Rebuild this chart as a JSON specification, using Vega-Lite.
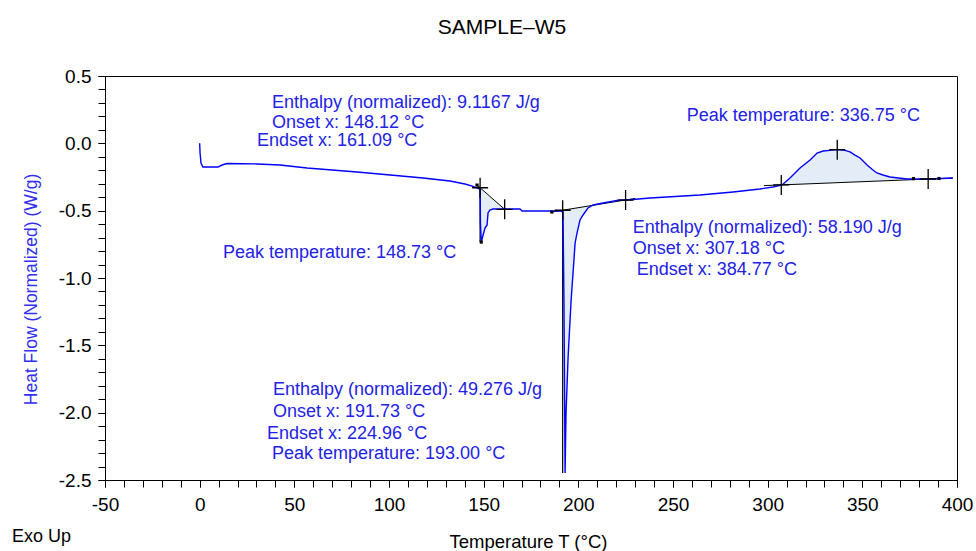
{
  "$schema": "https://vega.github.io/schema/vega-lite/v6.json",
  "width": 852,
  "height": 404,
  "autosize": "none",
  "padding": {"left": 105, "top": 76, "right": 19, "bottom": 71},
  "background": "white",
  "title": {
    "text": "SAMPLE–W5",
    "font": "Liberation Sans",
    "fontSize": 21,
    "fontWeight": "normal",
    "color": "black",
    "anchor": "middle",
    "frame": "group",
    "dx": -29,
    "offset": 12,
    "baseline": "alphabetic"
  },
  "config": {
    "view": {"stroke": "black", "strokeWidth": 1},
    "axis": {
      "grid": false,
      "domainColor": "black",
      "domainWidth": 1,
      "tickColor": "black",
      "tickWidth": 1,
      "tickSize": 7,
      "labelColor": "black",
      "labelFont": "Liberation Sans",
      "labelFontSize": 19,
      "titleFont": "Liberation Sans",
      "titleFontWeight": "normal",
      "labelFlush": false,
      "labelOverlap": false,
      "labelBound": false
    }
  },
  "datasets": {
    "curve": [
      {"t": 0.0, "hf": 0.0},
      {"t": 0.2, "hf": -0.07},
      {"t": 0.7, "hf": -0.146},
      {"t": 1.7, "hf": -0.176},
      {"t": 9.7, "hf": -0.176},
      {"t": 11.8, "hf": -0.161},
      {"t": 14.4, "hf": -0.15},
      {"t": 30.3, "hf": -0.153},
      {"t": 42.4, "hf": -0.161},
      {"t": 56.7, "hf": -0.183},
      {"t": 83.1, "hf": -0.213},
      {"t": 100.6, "hf": -0.235},
      {"t": 118.0, "hf": -0.257},
      {"t": 132.2, "hf": -0.28},
      {"t": 140.1, "hf": -0.302},
      {"t": 144.4, "hf": -0.32},
      {"t": 147.6, "hf": -0.338},
      {"t": 148.12, "hf": -0.345},
      {"t": 148.3, "hf": -0.6},
      {"t": 148.73, "hf": -0.733},
      {"t": 149.7, "hf": -0.681},
      {"t": 150.7, "hf": -0.629},
      {"t": 151.8, "hf": -0.606},
      {"t": 152.3, "hf": -0.517},
      {"t": 153.3, "hf": -0.495},
      {"t": 154.9, "hf": -0.488},
      {"t": 169.2, "hf": -0.488},
      {"t": 170.3, "hf": -0.502},
      {"t": 187.7, "hf": -0.502},
      {"t": 190.3, "hf": -0.502},
      {"t": 191.9, "hf": -0.51},
      {"t": 192.4, "hf": -1.163},
      {"t": 193.0, "hf": -2.448},
      {"t": 193.5, "hf": -2.002},
      {"t": 194.6, "hf": -1.587},
      {"t": 196.2, "hf": -1.163},
      {"t": 197.2, "hf": -0.963},
      {"t": 198.3, "hf": -0.74},
      {"t": 199.3, "hf": -0.666},
      {"t": 200.9, "hf": -0.569},
      {"t": 202.5, "hf": -0.532},
      {"t": 205.1, "hf": -0.48},
      {"t": 207.8, "hf": -0.458},
      {"t": 213.0, "hf": -0.443},
      {"t": 222.0, "hf": -0.421},
      {"t": 225.7, "hf": -0.421},
      {"t": 237.8, "hf": -0.406},
      {"t": 246.8, "hf": -0.398},
      {"t": 264.2, "hf": -0.384},
      {"t": 281.7, "hf": -0.361},
      {"t": 295.9, "hf": -0.339},
      {"t": 302.8, "hf": -0.324},
      {"t": 307.6, "hf": -0.309},
      {"t": 311.8, "hf": -0.257},
      {"t": 317.1, "hf": -0.183},
      {"t": 322.4, "hf": -0.124},
      {"t": 326.1, "hf": -0.072},
      {"t": 329.3, "hf": -0.057},
      {"t": 332.9, "hf": -0.052},
      {"t": 336.75, "hf": -0.047},
      {"t": 340.8, "hf": -0.052},
      {"t": 343.5, "hf": -0.064},
      {"t": 346.1, "hf": -0.087},
      {"t": 348.8, "hf": -0.109},
      {"t": 352.5, "hf": -0.161},
      {"t": 355.6, "hf": -0.198},
      {"t": 357.7, "hf": -0.22},
      {"t": 360.9, "hf": -0.235},
      {"t": 364.6, "hf": -0.25},
      {"t": 373.6, "hf": -0.265},
      {"t": 385.7, "hf": -0.265},
      {"t": 397.8, "hf": -0.257}
    ],
    "fills": [
      {"peak": "p1", "t": 148.12, "hf": -0.345, "base": -0.33},
      {"peak": "p1", "t": 148.3, "hf": -0.6, "base": -0.332},
      {"peak": "p1", "t": 148.73, "hf": -0.733, "base": -0.3375},
      {"peak": "p1", "t": 149.7, "hf": -0.681, "base": -0.3495},
      {"peak": "p1", "t": 150.7, "hf": -0.629, "base": -0.3618},
      {"peak": "p1", "t": 151.8, "hf": -0.606, "base": -0.3754},
      {"peak": "p1", "t": 152.3, "hf": -0.517, "base": -0.3816},
      {"peak": "p1", "t": 153.3, "hf": -0.495, "base": -0.3939},
      {"peak": "p1", "t": 154.9, "hf": -0.488, "base": -0.4137},
      {"peak": "p1", "t": 161.09, "hf": -0.488, "base": -0.49},
      {"peak": "p2", "t": 191.73, "hf": -0.505, "base": -0.497},
      {"peak": "p2", "t": 191.9, "hf": -0.51, "base": -0.4966},
      {"peak": "p2", "t": 192.4, "hf": -1.163, "base": -0.4955},
      {"peak": "p2", "t": 193.0, "hf": -2.448, "base": -0.4941},
      {"peak": "p2", "t": 193.5, "hf": -2.002, "base": -0.493},
      {"peak": "p2", "t": 194.6, "hf": -1.587, "base": -0.4904},
      {"peak": "p2", "t": 196.2, "hf": -1.163, "base": -0.4868},
      {"peak": "p2", "t": 197.2, "hf": -0.963, "base": -0.4845},
      {"peak": "p2", "t": 198.3, "hf": -0.74, "base": -0.482},
      {"peak": "p2", "t": 199.3, "hf": -0.666, "base": -0.4797},
      {"peak": "p2", "t": 200.9, "hf": -0.569, "base": -0.476},
      {"peak": "p2", "t": 202.5, "hf": -0.532, "base": -0.4724},
      {"peak": "p2", "t": 205.1, "hf": -0.48, "base": -0.4664},
      {"peak": "p2", "t": 207.8, "hf": -0.458, "base": -0.4603},
      {"peak": "p3", "t": 307.18, "hf": -0.309, "base": -0.309},
      {"peak": "p3", "t": 307.6, "hf": -0.309, "base": -0.3088},
      {"peak": "p3", "t": 311.8, "hf": -0.257, "base": -0.3064},
      {"peak": "p3", "t": 317.1, "hf": -0.183, "base": -0.3034},
      {"peak": "p3", "t": 322.4, "hf": -0.124, "base": -0.3004},
      {"peak": "p3", "t": 326.1, "hf": -0.072, "base": -0.2983},
      {"peak": "p3", "t": 329.3, "hf": -0.057, "base": -0.2965},
      {"peak": "p3", "t": 332.9, "hf": -0.052, "base": -0.2944},
      {"peak": "p3", "t": 336.75, "hf": -0.047, "base": -0.2922},
      {"peak": "p3", "t": 340.8, "hf": -0.052, "base": -0.2899},
      {"peak": "p3", "t": 343.5, "hf": -0.064, "base": -0.2884},
      {"peak": "p3", "t": 346.1, "hf": -0.087, "base": -0.2869},
      {"peak": "p3", "t": 348.8, "hf": -0.109, "base": -0.2854},
      {"peak": "p3", "t": 352.5, "hf": -0.161, "base": -0.2833},
      {"peak": "p3", "t": 355.6, "hf": -0.198, "base": -0.2815},
      {"peak": "p3", "t": 357.7, "hf": -0.22, "base": -0.2803},
      {"peak": "p3", "t": 360.9, "hf": -0.235, "base": -0.2785},
      {"peak": "p3", "t": 364.6, "hf": -0.25, "base": -0.2764},
      {"peak": "p3", "t": 373.6, "hf": -0.265, "base": -0.2713},
      {"peak": "p3", "t": 384.77, "hf": -0.265, "base": -0.265}
    ],
    "baselines": [
      {"seg": "b1", "t": 146.5, "hf": -0.31},
      {"seg": "b1", "t": 161.09, "hf": -0.49},
      {"seg": "b2", "t": 186.0, "hf": -0.51},
      {"seg": "b2", "t": 230.0, "hf": -0.409},
      {"seg": "b3", "t": 298.0, "hf": -0.314},
      {"seg": "b3", "t": 397.8, "hf": -0.258}
    ],
    "drops": [
      {"t": 148.12, "top": -0.33, "bottom": -0.733},
      {"t": 191.73, "top": -0.497, "bottom": -2.448}
    ],
    "crosses": [
      {"t": 148.12, "hf": -0.33},
      {"t": 161.09, "hf": -0.49},
      {"t": 191.73, "hf": -0.497},
      {"t": 224.96, "hf": -0.421},
      {"t": 307.18, "hf": -0.309},
      {"t": 336.75, "hf": -0.047},
      {"t": 384.77, "hf": -0.265}
    ],
    "dots": [
      {"t": 148.73, "hf": -0.733},
      {"t": 146.5, "hf": -0.31},
      {"t": 186.0, "hf": -0.51},
      {"t": 377.0, "hf": -0.262},
      {"t": 390.5, "hf": -0.261}
    ],
    "notes": [
      {"t": 38.2, "hf": 0.3, "label": "Enthalpy (normalized): 9.1167 J/g"},
      {"t": 38.2, "hf": 0.151, "label": "Onset x: 148.12 °C"},
      {"t": 30.3, "hf": 0.017, "label": "Endset x: 161.09 °C"},
      {"t": 12.3, "hf": -0.814, "label": "Peak temperature: 148.73 °C"},
      {"t": 257.2, "hf": 0.203, "label": "Peak temperature: 336.75 °C"},
      {"t": 228.7, "hf": -0.629, "label": "Enthalpy (normalized): 58.190 J/g"},
      {"t": 228.7, "hf": -0.785, "label": "Onset x: 307.18 °C"},
      {"t": 230.8, "hf": -0.941, "label": "Endset x: 384.77 °C"},
      {"t": 38.7, "hf": -1.832, "label": "Enthalpy (normalized): 49.276 J/g"},
      {"t": 38.7, "hf": -1.995, "label": "Onset x: 191.73 °C"},
      {"t": 35.5, "hf": -2.16, "label": "Endset x: 224.96 °C"},
      {"t": 38.2, "hf": -2.305, "label": "Peak temperature: 193.00 °C"}
    ],
    "corner": [
      {"t": -99.1, "hf": -2.923, "label": "Exo Up"}
    ]
  },
  "resolve": {"axis": {"x": "independent", "y": "independent"}},
  "layer": [
    {
      "data": {"name": "fills"},
      "mark": {"type": "area", "orient": "vertical", "color": "#e3ecf7", "opacity": 1},
      "encoding": {
        "x": {
          "field": "t", "type": "quantitative",
          "scale": {"domain": [-50, 400], "nice": false, "zero": false},
          "axis": {
            "orient": "bottom", "labels": false, "domain": false, "title": null,
            "values": [-50, -40, -30, -20, -10, 0, 10, 20, 30, 40, 50, 60, 70, 80, 90, 100, 110, 120, 130, 140, 150, 160, 170, 180, 190, 200, 210, 220, 230, 240, 250, 260, 270, 280, 290, 300, 310, 320, 330, 340, 350, 360, 370, 380, 390, 400]
          }
        },
        "y": {
          "field": "hf", "type": "quantitative",
          "scale": {"domain": [-2.5, 0.5], "nice": false, "zero": false},
          "axis": {
            "orient": "left", "labels": false, "domain": false, "title": null,
            "values": [-2.5, -2.4, -2.3, -2.2, -2.1, -2.0, -1.9, -1.8, -1.7, -1.6, -1.5, -1.4, -1.3, -1.2, -1.1, -1.0, -0.9, -0.8, -0.7, -0.6, -0.5, -0.4, -0.3, -0.2, -0.1, 0.0, 0.1, 0.2, 0.3, 0.4, 0.5]
          }
        },
        "y2": {"field": "base"},
        "detail": {"field": "peak"}
      }
    },
    {
      "data": {"name": "baselines"},
      "mark": {"type": "line", "color": "black", "strokeWidth": 1},
      "encoding": {
        "x": {"field": "t", "type": "quantitative", "scale": {"domain": [-50, 400], "nice": false, "zero": false}, "axis": null},
        "y": {"field": "hf", "type": "quantitative", "scale": {"domain": [-2.5, 0.5], "nice": false, "zero": false}, "axis": null},
        "detail": {"field": "seg"}
      }
    },
    {
      "data": {"name": "drops"},
      "mark": {"type": "rule", "color": "black", "strokeWidth": 1.2},
      "encoding": {
        "x": {"field": "t", "type": "quantitative", "scale": {"domain": [-50, 400], "nice": false, "zero": false}, "axis": null},
        "y": {"field": "top", "type": "quantitative", "scale": {"domain": [-2.5, 0.5], "nice": false, "zero": false}, "axis": null},
        "y2": {"field": "bottom"}
      }
    },
    {
      "data": {"name": "curve"},
      "mark": {"type": "line", "color": "#0000ff", "strokeWidth": 1.4},
      "encoding": {
        "x": {
          "field": "t", "type": "quantitative",
          "scale": {"domain": [-50, 400], "nice": false, "zero": false},
          "axis": {
            "orient": "bottom",
            "values": [-50, 0, 50, 100, 150, 200, 250, 300, 350, 400],
            "labelExpr": "replace(format(datum.value, 'd'), '−', '-')",
            "labelPadding": 8,
            "title": "Temperature  T (°C)",
            "titleColor": "black",
            "titleFontSize": 18.5,
            "titleX": 423,
            "titleY": 61,
            "titleAlign": "center",
            "titleBaseline": "middle"
          }
        },
        "y": {
          "field": "hf", "type": "quantitative",
          "scale": {"domain": [-2.5, 0.5], "nice": false, "zero": false},
          "axis": {
            "orient": "left",
            "values": [-2.5, -2.0, -1.5, -1.0, -0.5, 0.0, 0.5],
            "labelExpr": "replace(format(datum.value, '.1f'), '−', '-')",
            "labelPadding": 7,
            "title": "Heat Flow (Normalized)  (W/g)",
            "titleColor": "#3030f0",
            "titleFontSize": 17.5,
            "titleAngle": -90,
            "titleX": -74,
            "titleY": 213,
            "titleAlign": "center",
            "titleBaseline": "middle"
          }
        }
      }
    },
    {
      "data": {"name": "crosses"},
      "mark": {"type": "point", "shape": "M-0.8,0L0.8,0M0,-1L0,1", "filled": false, "stroke": "black", "strokeWidth": 1.3, "size": 400, "opacity": 1},
      "encoding": {
        "x": {"field": "t", "type": "quantitative", "scale": {"domain": [-50, 400], "nice": false, "zero": false}, "axis": null},
        "y": {"field": "hf", "type": "quantitative", "scale": {"domain": [-2.5, 0.5], "nice": false, "zero": false}, "axis": null}
      }
    },
    {
      "data": {"name": "dots"},
      "mark": {"type": "square", "color": "black", "size": 10, "opacity": 1},
      "encoding": {
        "x": {"field": "t", "type": "quantitative", "scale": {"domain": [-50, 400], "nice": false, "zero": false}, "axis": null},
        "y": {"field": "hf", "type": "quantitative", "scale": {"domain": [-2.5, 0.5], "nice": false, "zero": false}, "axis": null}
      }
    },
    {
      "data": {"name": "notes"},
      "mark": {"type": "text", "align": "left", "baseline": "middle", "font": "Liberation Sans", "fontSize": 18, "color": "#2222e6"},
      "encoding": {
        "x": {"field": "t", "type": "quantitative", "scale": {"domain": [-50, 400], "nice": false, "zero": false}, "axis": null},
        "y": {"field": "hf", "type": "quantitative", "scale": {"domain": [-2.5, 0.5], "nice": false, "zero": false}, "axis": null},
        "text": {"field": "label"}
      }
    },
    {
      "data": {"name": "corner"},
      "mark": {"type": "text", "align": "left", "baseline": "middle", "font": "Liberation Sans", "fontSize": 18, "color": "black"},
      "encoding": {
        "x": {"field": "t", "type": "quantitative", "scale": {"domain": [-50, 400], "nice": false, "zero": false}, "axis": null},
        "y": {"field": "hf", "type": "quantitative", "scale": {"domain": [-2.5, 0.5], "nice": false, "zero": false}, "axis": null},
        "text": {"field": "label"}
      }
    }
  ]
}
